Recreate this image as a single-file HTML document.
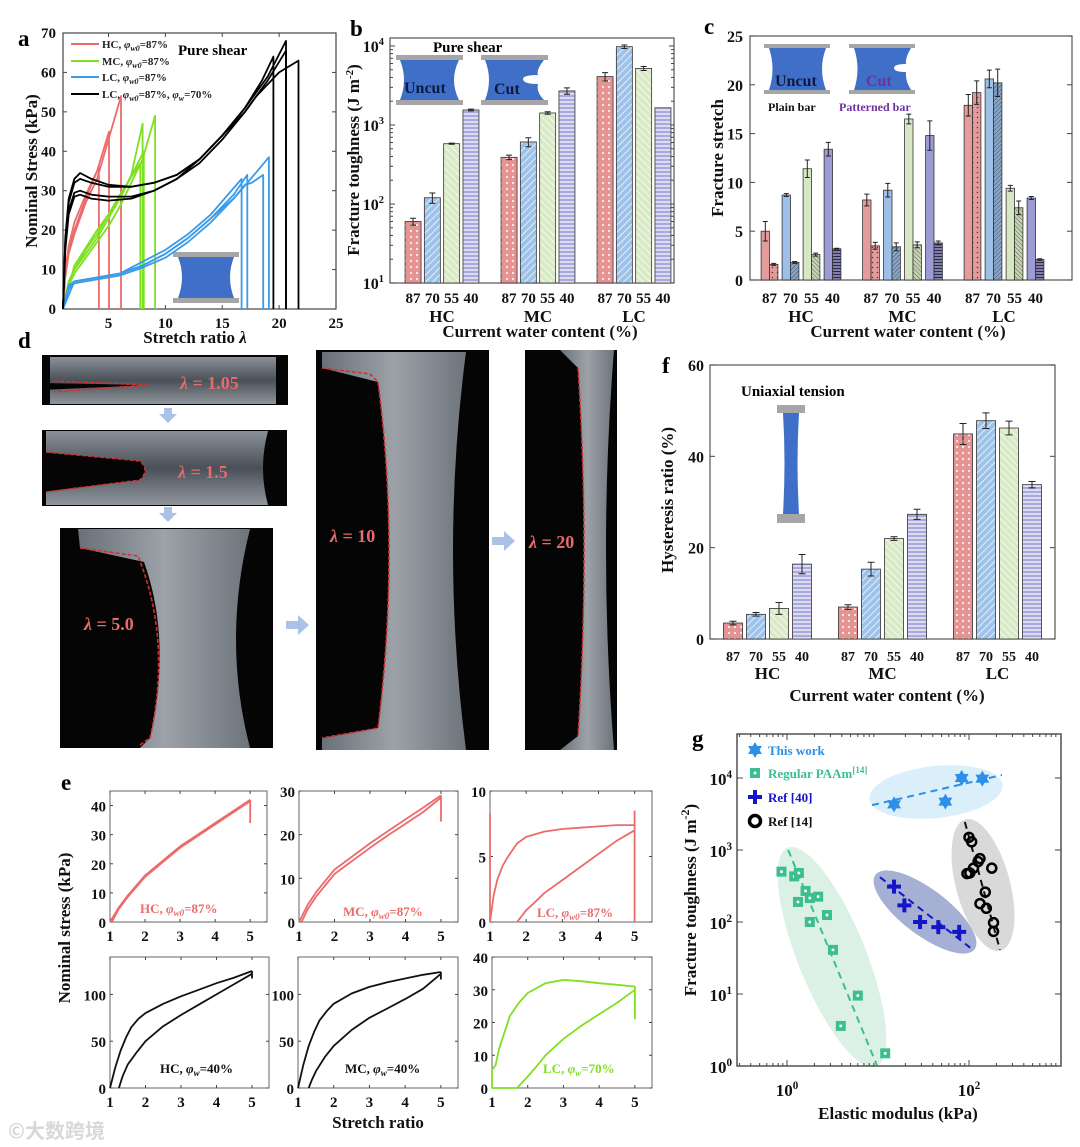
<!DOCTYPE html>
<html><head><meta charset="utf-8">
<style>
html,body{margin:0;padding:0;background:#fff;}
svg{display:block;font-family:"Liberation Serif","Noto Serif CJK SC",serif;font-weight:bold;}
.tk{font-size:15px;fill:#111;}
.ttl{font-size:17px;fill:#111;}
.pl{font-size:23px;fill:#000;}
</style></head>
<body>
<svg id="fig" width="1080" height="1147" viewBox="0 0 1080 1147" xmlns="http://www.w3.org/2000/svg">
<defs>
 <pattern id="pDotR" width="6" height="6" patternUnits="userSpaceOnUse"><rect width="6" height="6" fill="#e59393"/><circle cx="3" cy="3" r="1.1" fill="#fff" opacity="0.85"/></pattern>
 <pattern id="pDiagB" width="5" height="5" patternUnits="userSpaceOnUse" patternTransform="rotate(45)"><rect width="5" height="5" fill="#9ec3ea"/><line x1="0" y1="0" x2="0" y2="5" stroke="#fff" stroke-width="1.4"/></pattern>
 <pattern id="pDiagG" width="5" height="5" patternUnits="userSpaceOnUse" patternTransform="rotate(-45)"><rect width="5" height="5" fill="#d9eac6"/><line x1="0" y1="0" x2="0" y2="5" stroke="#fff" stroke-width="1.4"/></pattern>
 <pattern id="pHorP" width="4" height="4" patternUnits="userSpaceOnUse"><rect width="4" height="4" fill="#a9a9dd"/><line x1="0" y1="2" x2="4" y2="2" stroke="#fff" stroke-width="1.2"/></pattern>
 <pattern id="cDotR" width="5" height="5" patternUnits="userSpaceOnUse"><rect width="5" height="5" fill="#e39a9a"/><circle cx="2.5" cy="2.5" r="0.8" fill="#6a3030"/></pattern>
 <pattern id="cDiagB" width="3" height="3" patternUnits="userSpaceOnUse" patternTransform="rotate(45)"><rect width="3" height="3" fill="#87a6c8"/><line x1="0" y1="0" x2="0" y2="3" stroke="#334" stroke-width="0.8"/></pattern>
 <pattern id="cDiagG" width="3" height="3" patternUnits="userSpaceOnUse" patternTransform="rotate(-45)"><rect width="3" height="3" fill="#c4d4ae"/><line x1="0" y1="0" x2="0" y2="3" stroke="#445" stroke-width="0.8"/></pattern>
 <pattern id="cHorP" width="3" height="3" patternUnits="userSpaceOnUse"><rect width="3" height="3" fill="#7e7fae"/><line x1="0" y1="1.5" x2="3" y2="1.5" stroke="#223" stroke-width="0.9"/></pattern>
 <linearGradient id="gel" x1="0" y1="0" x2="1" y2="0"><stop offset="0" stop-color="#6a7078"/><stop offset="0.5" stop-color="#9ca2a8"/><stop offset="1" stop-color="#6e747b"/></linearGradient>
 <linearGradient id="gelv" x1="0" y1="0" x2="0" y2="1"><stop offset="0" stop-color="#8a9198"/><stop offset="0.5" stop-color="#4a5058"/><stop offset="1" stop-color="#90969c"/></linearGradient>
</defs>

<text class="pl" x="18" y="46">a</text>
<text class="pl" x="350" y="36">b</text>
<text class="pl" x="704" y="34">c</text>
<text class="pl" x="18" y="348">d</text>
<text class="pl" x="61" y="790">e</text>
<text class="pl" x="662" y="373">f</text>
<text class="pl" x="692" y="746">g</text>

<g>
 <rect x="63" y="33" width="273" height="276" fill="none" stroke="#444" stroke-width="1.2"/>
 <text x="178" y="55" font-size="15">Pure shear</text>
 <g font-size="11">
  <line x1="71" y1="44" x2="99" y2="44" stroke="#ec6b6b" stroke-width="2"/>
  <text x="102" y="48" fill="#222">HC, <tspan font-style="italic">φ</tspan><tspan font-size="8" dy="3" font-style="italic">w0</tspan><tspan dy="-3">=87%</tspan></text>
  <line x1="71" y1="61" x2="99" y2="61" stroke="#7fe022" stroke-width="2"/>
  <text x="102" y="65" fill="#222">MC, <tspan font-style="italic">φ</tspan><tspan font-size="8" dy="3" font-style="italic">w0</tspan><tspan dy="-3">=87%</tspan></text>
  <line x1="71" y1="77" x2="99" y2="77" stroke="#3a9be8" stroke-width="2"/>
  <text x="102" y="81" fill="#222">LC, <tspan font-style="italic">φ</tspan><tspan font-size="8" dy="3" font-style="italic">w0</tspan><tspan dy="-3">=87%</tspan></text>
  <line x1="71" y1="94" x2="99" y2="94" stroke="#000" stroke-width="2"/>
  <text x="102" y="98" fill="#222">LC, <tspan font-style="italic">φ</tspan><tspan font-size="8" dy="3" font-style="italic">w0</tspan><tspan dy="-3">=87%, </tspan><tspan font-style="italic">φ</tspan><tspan font-size="8" dy="3" font-style="italic">w</tspan><tspan dy="-3">=70%</tspan></text>
 </g>
 <g>
  <rect x="173" y="252" width="66" height="5" fill="#a6a6a6"/>
  <path d="M178,257 L234,257 Q226,277 234,298 L178,298 Q186,277 178,257Z" fill="#3f6fc6"/>
  <rect x="173" y="298" width="66" height="5" fill="#a6a6a6"/>
 </g>
 <text class="ttl" transform="translate(37,171) rotate(-90)" text-anchor="middle">Nominal Stress (kPa)</text>
 <text class="ttl" x="195" y="343" text-anchor="middle">Stretch ratio <tspan font-style="italic">λ</tspan></text>
</g>

<g>
 <rect x="390" y="38" width="284" height="245" fill="none" stroke="#555" stroke-width="1.2"/>
 <text x="433" y="52" font-size="15">Pure shear</text>
 <g>
  <rect x="396" y="55" width="67" height="5" fill="#a6a6a6"/>
  <path d="M400,60 L459,60 Q449,80 459,100 L400,100 Q408,80 400,60Z" fill="#3f6fc6"/>
  <rect x="396" y="100" width="67" height="5" fill="#a6a6a6"/>
  <text x="404" y="93" font-size="16" fill="#0c1a40">Uncut</text>
 </g>
 <g>
  <rect x="481" y="55" width="67" height="5" fill="#a6a6a6"/>
  <path d="M485,60 L544,60 Q536,70 538,75 Q523,75 523,79 Q523,84 538,84 Q536,92 544,100 L485,100 Q493,80 485,60Z" fill="#3f6fc6"/>
  <rect x="481" y="100" width="67" height="5" fill="#a6a6a6"/>
  <text x="494" y="94" font-size="16" fill="#0c1a40">Cut</text>
 </g>
 <text class="ttl" transform="translate(359,160) rotate(-90)" text-anchor="middle">Fracture toughness (J m<tspan font-size="11" dy="-6">-2</tspan><tspan dy="6">)</tspan></text>
 <text class="ttl" x="540" y="337" text-anchor="middle">Current water content (%)</text>
</g>

<g>
 <rect x="750" y="36" width="322" height="244" fill="none" stroke="#555" stroke-width="1.2"/>
 <g>
  <rect x="764" y="44" width="66" height="4" fill="#a6a6a6"/>
  <path d="M769,48 L826,48 Q818,69 826,90 L769,90 Q776,69 769,48Z" fill="#3f6fc6"/>
  <rect x="764" y="90" width="66" height="4" fill="#a6a6a6"/>
  <text x="775" y="86" font-size="16" fill="#0c1a40">Uncut</text>
  <text x="768" y="111" font-size="12" fill="#111">Plain bar</text>
 </g>
 <g>
  <rect x="849" y="44" width="66" height="4" fill="#a6a6a6"/>
  <path d="M854,48 L911,48 Q905,58 906,64 Q894,64 894,68 Q894,72 906,72 Q905,80 911,90 L854,90 Q861,69 854,48Z" fill="#3f6fc6"/>
  <rect x="849" y="90" width="66" height="4" fill="#a6a6a6"/>
  <text x="866" y="86" font-size="16" fill="#7030a0">Cut</text>
  <text x="839" y="111" font-size="12" fill="#7030a0">Patterned bar</text>
 </g>
 <text class="ttl" transform="translate(723,158) rotate(-90)" text-anchor="middle">Fracture stretch</text>
 <text class="ttl" x="908" y="337" text-anchor="middle">Current water content (%)</text>
</g>

<g>
 <g>
  <rect x="42" y="355" width="246" height="50" fill="#050505"/>
  <rect x="50" y="357" width="226" height="47" fill="url(#gelv)"/>
  <path d="M42,383 L148,385 L42,390Z" fill="#050505"/>
  <path d="M54,381 L148,385 L54,392" fill="none" stroke="#d43030" stroke-width="1.5" stroke-dasharray="4,2"/>
  <text x="180" y="389" font-size="18" fill="#e86a6a"><tspan font-style="italic">λ</tspan> = 1.05</text>
 </g>
 <path d="M164,408 h8 v6 h5 l-9,9 l-9,-9 h5z" fill="#a9c2e6"/>
 <g>
  <rect x="42" y="430" width="245" height="76" fill="#050505"/>
  <path d="M46,431 L268,431 Q258,468 268,505 L46,505Z" fill="url(#gelv)"/>
  <path d="M42,452 L140,461 Q150,470 140,480 L42,492Z" fill="#050505"/>
  <path d="M46,452 L140,461 Q150,470 140,480 L46,492" fill="none" stroke="#d43030" stroke-width="1.5" stroke-dasharray="4,2"/>
  <text x="178" y="478" font-size="18" fill="#e86a6a"><tspan font-style="italic">λ</tspan> = 1.5</text>
 </g>
 <path d="M164,507 h8 v6 h5 l-9,9 l-9,-9 h5z" fill="#a9c2e6"/>
 <g>
  <rect x="60" y="528" width="213" height="220" fill="#050505"/>
  <path d="M78,529 L250,529 Q222,640 250,748 L140,748 L150,738 Q172,640 144,562 L80,548Z" fill="url(#gel)"/>
  <path d="M80,548 L138,556 Q172,640 150,738 L140,745" fill="none" stroke="#d43030" stroke-width="1.6" stroke-dasharray="4,2"/>
  <text x="84" y="630" font-size="18" fill="#e86a6a"><tspan font-style="italic">λ</tspan> = 5.0</text>
 </g>
 <path d="M286,621 h12 v-6 l11,10 l-11,10 v-6 h-12z" fill="#a9c2e6"/>
 <g>
  <rect x="316" y="350" width="173" height="400" fill="#050505"/>
  <path d="M322,352 L466,352 Q440,550 466,750 L322,750 L322,738 L378,728 Q400,550 378,382 L322,368Z" fill="url(#gel)"/>
  <path d="M322,368 L370,374 L378,382 Q400,550 378,728 L322,738" fill="none" stroke="#d43030" stroke-width="1.6" stroke-dasharray="4,2"/>
  <text x="330" y="542" font-size="18" fill="#e86a6a"><tspan font-style="italic">λ</tspan> = 10</text>
 </g>
 <path d="M492,537 h12 v-6 l11,10 l-11,10 v-6 h-12z" fill="#a9c2e6"/>
 <g>
  <rect x="525" y="350" width="92" height="400" fill="#050505"/>
  <path d="M560,350 L614,350 Q598,550 614,750 L560,750 L578,736 Q590,550 578,368Z" fill="url(#gel)"/>
  <path d="M578,368 Q590,550 578,736" fill="none" stroke="#d43030" stroke-width="1.5" stroke-dasharray="4,2"/>
  <text x="529" y="548" font-size="18" fill="#e86a6a"><tspan font-style="italic">λ</tspan> = 20</text>
 </g>
</g>

<g>
 <rect x="710" y="365" width="345" height="274" fill="none" stroke="#555" stroke-width="1.2"/>
 <text x="741" y="396" font-size="15">Uniaxial tension</text>
 <g>
  <rect x="777" y="405" width="28" height="8" fill="#a6a6a6"/>
  <path d="M783,413 L799,413 Q796,463 799,514 L783,514 Q786,463 783,413Z" fill="#3f6fc6"/>
  <rect x="777" y="514" width="28" height="9" fill="#a6a6a6"/>
 </g>
 <text class="ttl" transform="translate(673,500) rotate(-90)" text-anchor="middle">Hysteresis ratio (%)</text>
 <text class="ttl" x="887" y="701" text-anchor="middle">Current water content (%)</text>
</g>

<g>
 <text class="ttl" font-size="19" transform="translate(70,928) rotate(-90)" text-anchor="middle">Nominal stress (kPa)</text>
 <text class="ttl" font-size="19" x="378" y="1128" text-anchor="middle">Stretch ratio</text>
 <g font-size="13">
 <text x="140" y="913" fill="#ec6b6b">HC, <tspan font-style="italic">φ</tspan><tspan font-size="9" dy="3" font-style="italic">w0</tspan><tspan dy="-3">=87%</tspan></text>
 <text x="343" y="916" fill="#ec6b6b">MC, <tspan font-style="italic">φ</tspan><tspan font-size="9" dy="3" font-style="italic">w0</tspan><tspan dy="-3">=87%</tspan></text>
 <text x="537" y="917" fill="#ec6b6b">LC, <tspan font-style="italic">φ</tspan><tspan font-size="9" dy="3" font-style="italic">w0</tspan><tspan dy="-3">=87%</tspan></text>
 <text x="160" y="1073" fill="#111">HC, <tspan font-style="italic">φ</tspan><tspan font-size="9" dy="3" font-style="italic">w</tspan><tspan dy="-3">=40%</tspan></text>
 <text x="345" y="1073" fill="#111">MC, <tspan font-style="italic">φ</tspan><tspan font-size="9" dy="3" font-style="italic">w</tspan><tspan dy="-3">=40%</tspan></text>
 <text x="543" y="1073" fill="#7fe022">LC, <tspan font-style="italic">φ</tspan><tspan font-size="9" dy="3" font-style="italic">w</tspan><tspan dy="-3">=70%</tspan></text>
 </g>
</g>

<g>
 <ellipse cx="936" cy="792" rx="67" ry="26" transform="rotate(-6 936 792)" fill="#d4ecf8" opacity="0.85"/>
 <ellipse cx="832" cy="957" rx="118" ry="34" transform="rotate(68 832 957)" fill="#d6efe0" opacity="0.85"/>
 <ellipse cx="925" cy="912" rx="62" ry="23" transform="rotate(37 925 912)" fill="#8796c6" opacity="0.75"/>
 <ellipse cx="983" cy="885" rx="68" ry="27" transform="rotate(75 983 885)" fill="#d5d5d5" opacity="0.9"/>
 <rect x="737" y="734" width="324" height="332" fill="none" stroke="#444" stroke-width="1.4"/>
 <text class="ttl" font-size="19" transform="translate(696,900) rotate(-90)" text-anchor="middle">Fracture toughness (J m<tspan font-size="12" dy="-7">-2</tspan><tspan dy="7">)</tspan></text>
 <text class="ttl" font-size="19" x="898" y="1119" text-anchor="middle">Elastic modulus (kPa)</text>
 <g font-size="13">
  <text x="768" y="755" fill="#2e8fe6">This work</text>
  <text x="768" y="778" fill="#3cbf8f">Regular PAAm<tspan font-size="9" dy="-5">[14]</tspan></text>
  <text x="768" y="802" fill="#1515c8">Ref [40]</text>
  <text x="768" y="826" fill="#111">Ref [14]</text>
 </g>
</g>
<text x="8" y="1138" font-size="20" fill="#d8d8d8" font-family="'Noto Sans CJK SC',sans-serif">©大数跨境</text>
</svg>

<script>
const aXTicks = [5, 10, 15, 20, 25];
const aYTicks = [0, 10, 20, 30, 40, 50, 60, 70];
const aRed1 = [[1,0],[1.2,8],[1.5,14],[2,19],[3,27],[4,33],[5,43],[6.1,54]];
const aRed2 = [[1,0],[1.2,9],[1.5,15],[2,20],[3,28],[4,35],[5.04,45]];
const aRed3 = [[1,0],[1.2,10],[1.5,16],[2,22],[3,29],[4.16,36]];
const aGreen1 = [[1,0],[1.5,6],[2,9],[3,13],[4,17],[5,21],[6,26],[7,32],[8,38],[9.1,49]];
const aGreen2 = [[1,0],[1.5,7],[2,10],[3,14],[4,18],[5,23],[6,28],[7,34],[8.0,47]];
const aGreen3 = [[1,0],[1.5,7],[2,10],[3,15],[4,19],[5,24],[6,29],[7.8,37]];
const aGreen4 = [[1,0],[2,11],[4,20],[6,28],[8.1,40]];
const aBlue1 = [[1,0],[1.5,5],[2,6.5],[4,7.5],[6,8.5],[8,10.5],[10,13],[12,17],[14,22],[16,28],[17.5,33],[19.1,38.5]];
const aBlue2 = [[1,0],[1.5,5.5],[2,7],[4,8],[6,9],[8,11],[10,14],[12,18],[14,23],[16,29],[17.2,34]];
const aBlue3 = [[1,0],[1.5,6],[2,7],[4,8],[6,9],[8,12],[10,15],[12,19],[14,24],[16.7,33]];
const aBlue4 = [[1,0],[2,7],[4,8],[6,9],[8,11],[10,14],[12,18],[14,23],[16,28],[17,31.5],[17.6,32],[18.6,34]];
const aBlack1 = [[1,0],[1.2,18],[1.5,28],[2,33],[2.5,34.5],[3.5,33],[5,31.5],[7,31],[9,32],[11,34],[13,38],[15,44],[17,51],[18.5,58],[19.5,64]];
const aBlack2 = [[1,0],[1.2,17],[1.5,27],[2,32],[2.5,33],[3.5,32],[5,31],[7,31],[9,32],[11,34],[13,38],[15,44],[17,51],[19,59],[20.6,68]];
const aBlack3 = [[1,0],[1.2,16],[1.5,25],[2,29.5],[2.5,30],[3.5,29],[5,28.5],[7,28.5],[9,30],[11,33],[13,37],[15,43],[17,50],[19,58],[20.6,65.5]];
const aBlack4 = [[1,0],[1.2,15],[1.5,24],[2,28.5],[2.5,29],[3.5,28],[5,27.5],[7,28],[9,30],[11,33],[13,38],[15,44],[17,50],[18,54],[20,60],[21.7,63]];

const groups = ["HC", "MC", "LC"];
const waterLevels = ["87", "70", "55", "40"];
const bHC = [60, 120, 580, 1550];
const bMC = [390, 610, 1420, 2700];
const bLC = [4100, 9800, 5200, 1650];
const bErrHC = [6, 18, 10, 40];
const bErrMC = [25, 80, 50, 250];
const bErrLC = [500, 500, 300, 0];
const bYTickExp = [1, 2, 3, 4];
const cPlainHC = [5.0, 8.7, 11.4, 13.4];
const cPlainMC = [8.2, 9.2, 16.5, 14.8];
const cPlainLC = [17.9, 20.6, 9.4, 8.4];
const cPatHC = [1.6, 1.8, 2.6, 3.2];
const cPatMC = [3.5, 3.4, 3.6, 3.8];
const cPatLC = [19.2, 20.2, 7.4, 2.1];
const cErrPlainHC = [1.0, 0.15, 0.9, 0.7];
const cErrPlainMC = [0.6, 0.7, 0.5, 1.5];
const cErrPlainLC = [1.1, 0.9, 0.3, 0.15];
const cErrPatHC = [0.1, 0.1, 0.15, 0.05];
const cErrPatMC = [0.35, 0.4, 0.3, 0.2];
const cErrPatLC = [1.2, 1.4, 0.7, 0.08];
const cYTicks = [0, 5, 10, 15, 20, 25];
const fHC = [3.5, 5.4, 6.7, 16.4];
const fMC = [7.0, 15.3, 22.0, 27.3];
const fLC = [44.9, 47.8, 46.2, 33.8];
const fErrHC = [0.4, 0.4, 1.3, 2.1];
const fErrMC = [0.5, 1.5, 0.4, 1.1];
const fErrLC = [2.3, 1.7, 1.5, 0.7];
const fYTicks = [0, 20, 40, 60];

const eXTicks = [1, 2, 3, 4, 5];
const e1Load = [[1,0],[1.25,5],[1.5,9],[2,16],[2.5,21],[3,26],[3.5,30],[4,34],[4.5,38],[5,42]];
const e1Unload = [[5,41.5],[4.5,37.5],[4,33.5],[3.5,29.5],[3,25.5],[2.5,20.5],[2,15.5],[1.5,8.5],[1.25,4.5],[1.05,0]];
const e1Drop = [[5,42],[5,34]];
const e2Load = [[1,0],[1.25,4],[1.5,7],[2,12],[2.5,15],[3,18],[3.5,20.8],[4,23.5],[4.5,26.2],[5,29]];
const e2Unload = [[5,28.5],[4.5,25.2],[4,22.5],[3.5,19.8],[3,17],[2.5,14],[2,11],[1.5,6],[1.25,3],[1.07,0]];
const e2Drop = [[5,29],[5,23]];
const e3Load = [[1,8.3],[1,0],[1.1,2],[1.2,3.2],[1.35,4.3],[1.5,5],[1.75,6],[2,6.5],[2.5,6.9],[3,7.1],[3.5,7.2],[4,7.3],[4.5,7.4],[5,7.4]];
const e3Unload = [[5,7.0],[4.5,6.2],[4,5.2],[3.5,4.2],[3,3.2],[2.5,2.2],[2.2,1.4],[2,0.9],[1.75,0]];
const e3Drop = [[5,8.5],[5,0]];
const e4Load = [[1,0],[1.15,22],[1.3,40],[1.45,54],[1.6,65],[1.8,74],[2,80],[2.5,90],[3,98],[3.5,105],[4,112],[4.5,118],[5,125]];
const e4Unload = [[5,122],[4.5,111],[4,100],[3.5,89],[3,78],[2.5,66],[2,50],[1.75,38],[1.5,25],[1.35,12],[1.25,0]];
const e4Drop = [[5,125],[5,117]];
const e5Load = [[1,0],[1.15,25],[1.3,45],[1.45,60],[1.6,72],[1.8,82],[2,90],[2.5,101],[3,108],[3.5,113],[4,117],[4.5,121],[5,124]];
const e5Unload = [[5,122],[4.5,106],[4,95],[3.5,85],[3,75],[2.5,62],[2,45],[1.75,33],[1.5,18],[1.38,8],[1.3,0]];
const e5Drop = [[5,124],[5,116]];
const e6Load = [[1,0],[1,5.5],[1.1,7],[1.2,12],[1.35,17],[1.5,22],[1.75,26],[2,29],[2.5,32],[3,33],[3.5,32.6],[4,32],[4.5,31.5],[5,31]];
const e6Unload = [[5,30],[4.5,26],[4,22.5],[3.5,19],[3,15],[2.5,10],[2.2,6],[2,3.5],[1.7,0],[1,0]];
const e6Drop = [[5,31],[5,21]];

const gThisE = [15, 55, 83, 140];
const gThisG = [4300, 4700, 10000, 9800];
const gPaamE = [0.87, 1.2, 1.35, 1.32, 1.6, 1.78, 2.2, 1.78, 2.75, 3.2, 6.0, 3.9, 12];
const gPaamG = [500, 430, 480, 190, 270, 215, 225, 100, 125, 41, 9.5, 3.6, 1.5];
const gRef40E = [15, 19.5, 29, 46, 78];
const gRef40G = [310, 170, 100, 85, 73];
const gRef14E = [100, 107, 132, 126, 112, 95, 178, 151, 132, 155, 186, 186, 102];
const gRef14G = [1500, 1300, 760, 690, 560, 470, 560, 260, 180, 155, 98, 74, 480];
const gFitThisE = [8.6, 230];
const gFitThisG = [4200, 11000];
const gFitPaamE = [1.03, 9.7];
const gFitPaamG = [1000, 1.03];
const gFitRef40E = [10.5, 103];
const gFitRef40G = [420, 44];
const gFitRef14E = [90, 219];
const gFitRef14G = [2450, 41];
const gXTickExp = [0, 2];
const gYTickExp = [0, 1, 2, 3, 4];

const NS = 'http://www.w3.org/2000/svg';
const svg = document.getElementById('fig');
function mk(tag, attrs, parent) {
  const e = document.createElementNS(NS, tag);
  for (const k in attrs) e.setAttribute(k, attrs[k]);
  (parent || svg).appendChild(e);
  return e;
}
function group(name) {
  const g = mk('g', {});
  
  
  return g;
}
function poly(pts, sx, sy, color, w, parent, name) {
  const d = pts.map(p => sx(p[0]).toFixed(1) + ',' + sy(p[1]).toFixed(1)).join(' ');
  const e = mk('polyline', {points: d, fill: 'none', stroke: color, 'stroke-width': w, 'stroke-linejoin': 'round'}, parent);
  
  
  return e;
}
function label(x, y, s, anchor, size, parent, name) {
  const e = mk('text', {x: x, y: y, 'text-anchor': anchor, 'font-size': size, fill: '#111'}, parent);
  e.textContent = s;
  
  
  return e;
}
function powLabel(x, y, exp, anchor, size, parent, name) {
  const e = mk('text', {x: x, y: y, 'text-anchor': anchor, 'font-size': size, fill: '#111'}, parent);
  const t1 = document.createElementNS(NS, 'tspan'); t1.textContent = '10'; e.appendChild(t1);
  const t2 = document.createElementNS(NS, 'tspan'); t2.textContent = String(exp);
  t2.setAttribute('dy', '-7'); t2.setAttribute('font-size', size * 0.65); e.appendChild(t2);
  
  
  return e;
}
function tick(x1, y1, x2, y2, parent) {
  const e = mk('line', {x1, y1, x2, y2, stroke: '#444', 'stroke-width': 1}, parent);
  
  
}
function bar(x, w, yTop, yBase, fill, parent, name) {
  const e = mk('rect', {x: x - w / 2, y: yTop, width: w, height: Math.max(0, yBase - yTop), fill: fill, stroke: '#333', 'stroke-width': 0.8}, parent);
  
  
}
function errBar(x, yLo, yHi, cap, parent) {
  const e = mk('path', {d: `M${x},${yLo}V${yHi}M${x - cap},${yLo}h${2 * cap}M${x - cap},${yHi}h${2 * cap}`, stroke: '#222', 'stroke-width': 1, fill: 'none'}, parent);
  
  
}

(function () {
  const g = group('panel-a-plot');
  const sx = v => 63 + (v - 1) * 11.375;
  const sy = v => 309 - v * 3.943;
  aXTicks.forEach(t => { tick(sx(t), 309, sx(t), 305, g); tick(sx(t), 33, sx(t), 37, g); label(sx(t), 328, String(t), 'middle', 15, g, 'x-tick-label-a'); });
  aYTicks.forEach(t => { tick(63, sy(t), 67, sy(t), g); tick(336, sy(t), 332, sy(t), g); label(56, sy(t) + 5, String(t), 'end', 15, g, 'y-tick-label-a'); });
  const fam = [
    [[aRed1, aRed2, aRed3], '#ec6b6b', 'hc-curve'],
    [[aGreen1, aGreen2, aGreen3, aGreen4], '#7fe022', 'mc-curve'],
    [[aBlue1, aBlue2, aBlue3, aBlue4], '#3a9be8', 'lc-curve'],
    [[aBlack1, aBlack2, aBlack3, aBlack4], '#000', 'lc70-curve']
  ];
  fam.forEach(f => f[0].forEach(c => {
    const last = c[c.length - 1];
    poly(c.concat([[last[0], 0]]), sx, sy, f[1], 1.8, g, f[2]);
  }));
})();

(function () {
  const g = group('panel-b-plot');
  const sy = v => 283 - (Math.log10(v) - 1) * 79;
  const gc = i => 442 + 96 * i;
  const off = j => (j - 1.5) * 19.3;
  const fills = ['url(#pDotR)', 'url(#pDiagB)', 'url(#pDiagG)', 'url(#pHorP)'];
  const vals = [bHC, bMC, bLC], errs = [bErrHC, bErrMC, bErrLC];
  bYTickExp.forEach(e => {
    const y = sy(Math.pow(10, e));
    tick(390, y, 395, y, g); tick(674, y, 669, y, g);
    powLabel(384, y + 6, e, 'end', 16, g, 'y-tick-label-b');
    if (e < 4) for (let m = 2; m < 10; m++) { const ym = sy(m * Math.pow(10, e)); tick(390, ym, 393, ym, g); tick(674, ym, 671, ym, g); }
  });
  groups.forEach((name, i) => {
    waterLevels.forEach((w, j) => {
      const x = gc(i) + off(j), v = vals[i][j], er = errs[i][j];
      bar(x, 16, sy(v), 283, fills[j], g, 'bar-' + name.toLowerCase() + '-' + w);
      if (er > 0) errBar(x, sy(v - er), sy(v + er), 3, g);
      label(x, 303, w, 'middle', 15, g, 'x-tick-label-b');
    });
    label(gc(i), 322, name, 'middle', 17, g, 'group-label-b');
  });
})();

(function () {
  const g = group('panel-c-plot');
  const sy = v => 280 - v * 9.76;
  const gc = i => 801 + 101.5 * i;
  const off = j => (j - 1.5) * 21;
  const plainFill = ['#e39b9b', '#9ec0e6', '#d6e8c3', '#9d9bd3'];
  const patFill = ['url(#cDotR)', 'url(#cDiagB)', 'url(#cDiagG)', 'url(#cHorP)'];
  const plain = [cPlainHC, cPlainMC, cPlainLC], pat = [cPatHC, cPatMC, cPatLC];
  const ePlain = [cErrPlainHC, cErrPlainMC, cErrPlainLC], ePat = [cErrPatHC, cErrPatMC, cErrPatLC];
  cYTicks.forEach(t => { tick(750, sy(t), 755, sy(t), g); tick(1072, sy(t), 1067, sy(t), g); label(743, sy(t) + 6, String(t), 'end', 16, g, 'y-tick-label-c'); });
  groups.forEach((name, i) => {
    waterLevels.forEach((w, j) => {
      const x = gc(i) + off(j);
      const v1 = plain[i][j], v2 = pat[i][j];
      bar(x - 4.2, 8.4, sy(v1), 280, plainFill[j], g, 'plain-bar-' + name.toLowerCase() + '-' + w);
      errBar(x - 4.2, sy(v1 - ePlain[i][j]), sy(v1 + ePlain[i][j]), 2.5, g);
      bar(x + 4.2, 8.4, sy(v2), 280, patFill[j], g, 'patterned-bar-' + name.toLowerCase() + '-' + w);
      errBar(x + 4.2, sy(v2 - ePat[i][j]), sy(v2 + ePat[i][j]), 2.5, g);
      label(x, 303, w, 'middle', 15, g, 'x-tick-label-c');
    });
    label(gc(i), 322, name, 'middle', 17, g, 'group-label-c');
  });
})();

(function () {
  const g = group('panel-f-plot');
  const sy = v => 639 - v * 4.567;
  const gc = i => 767.5 + 115 * i;
  const off = j => (j - 1.5) * 23;
  const fills = ['url(#pDotR)', 'url(#pDiagB)', 'url(#pDiagG)', 'url(#pHorP)'];
  const vals = [fHC, fMC, fLC], errs = [fErrHC, fErrMC, fErrLC];
  fYTicks.forEach(t => { tick(710, sy(t), 715, sy(t), g); tick(1055, sy(t), 1050, sy(t), g); label(704, sy(t) + 6, String(t), 'end', 16, g, 'y-tick-label-f'); });
  groups.forEach((name, i) => {
    waterLevels.forEach((w, j) => {
      const x = gc(i) + off(j), v = vals[i][j], er = errs[i][j];
      bar(x, 19, sy(v), 639, fills[j], g, 'bar-' + name.toLowerCase() + '-' + w);
      errBar(x, sy(v - er), sy(v + er), 3.5, g);
      label(x, 661, w, 'middle', 14, g, 'x-tick-label-f');
    });
    label(gc(i), 679, name, 'middle', 17, g, 'group-label-f');
  });
})();

(function () {
  const boxes = [
    {x0: 110, x1: 267, y0: 791, y1: 922, ymax: 45, ticks: [0, 10, 20, 30, 40], c: '#ec6b6b', load: e1Load, un: e1Unload, drop: e1Drop, n: 'hc-87'},
    {x0: 299, x1: 458, y0: 791, y1: 922, ymax: 30, ticks: [0, 10, 20, 30], c: '#ec6b6b', load: e2Load, un: e2Unload, drop: e2Drop, n: 'mc-87'},
    {x0: 490, x1: 652, y0: 791, y1: 922, ymax: 10, ticks: [0, 5, 10], c: '#ec6b6b', load: e3Load, un: e3Unload, drop: e3Drop, n: 'lc-87'},
    {x0: 110, x1: 269, y0: 957, y1: 1088, ymax: 140, ticks: [0, 50, 100], c: '#111', load: e4Load, un: e4Unload, drop: e4Drop, n: 'hc-40'},
    {x0: 298, x1: 458, y0: 957, y1: 1088, ymax: 140, ticks: [0, 50, 100], c: '#111', load: e5Load, un: e5Unload, drop: e5Drop, n: 'mc-40'},
    {x0: 492, x1: 652, y0: 957, y1: 1088, ymax: 40, ticks: [0, 10, 20, 30, 40], c: '#7fe022', load: e6Load, un: e6Unload, drop: e6Drop, n: 'lc-70'}
  ];
  boxes.forEach(b => {
    const g = group('panel-e-plot-' + b.n);
    const fr = mk('rect', {x: b.x0, y: b.y0, width: b.x1 - b.x0, height: b.y1 - b.y0, fill: 'none', stroke: '#666', 'stroke-width': 1}, g);
    
    
    const sx = v => b.x0 + (v - 1) / 4.48 * (b.x1 - b.x0);
    const sy = v => b.y1 - v / b.ymax * (b.y1 - b.y0);
    eXTicks.forEach(t => { tick(sx(t), b.y1, sx(t), b.y1 - 3, g); tick(sx(t), b.y0, sx(t), b.y0 + 3, g); label(sx(t), b.y1 + 19, String(t), 'middle', 15, g, 'x-tick-label-e'); });
    b.ticks.forEach(t => { tick(b.x0, sy(t), b.x0 + 3, sy(t), g); tick(b.x1, sy(t), b.x1 - 3, sy(t), g); label(b.x0 - 4, sy(t) + 6, String(t), 'end', 15, g, 'y-tick-label-e'); });
    poly(b.load, sx, sy, b.c, 1.8, g, 'loading-curve');
    poly(b.un, sx, sy, b.c, 1.8, g, 'unloading-curve');
    poly(b.drop, sx, sy, b.c, 1.8, g, 'fracture-drop');
  });
})();

(function () {
  const g = group('panel-g-plot');
  const sx = v => 787 + Math.log10(v) * 91;
  const sy = v => 1066 - Math.log10(v) * 72;
  gXTickExp.forEach(e => { const x = sx(Math.pow(10, e)); tick(x, 1066, x, 1060, g); tick(x, 734, x, 740, g); powLabel(x, 1096, e, 'middle', 17, g, 'x-tick-label-g'); });
  for (let e = -1; e < 3; e++) for (let m = 2; m < 10; m++) { const x = sx(m * Math.pow(10, e)); if (x > 737 && x < 1061) { tick(x, 1066, x, 1063, g); tick(x, 734, x, 737, g); } }
  gYTickExp.forEach(e => { const y = sy(Math.pow(10, e)); tick(737, y, 743, y, g); tick(1061, y, 1055, y, g); powLabel(732, y + 7, e, 'end', 17, g, 'y-tick-label-g'); });
  const fits = [[gFitThisE, gFitThisG, '#2e8fe6'], [gFitPaamE, gFitPaamG, '#3cbf8f'], [gFitRef40E, gFitRef40G, '#1515c8'], [gFitRef14E, gFitRef14G, '#111']];
  fits.forEach(f => {
    const l = mk('line', {x1: sx(f[0][0]), y1: sy(f[1][0]), x2: sx(f[0][1]), y2: sy(f[1][1]), stroke: f[2], 'stroke-width': 2, 'stroke-dasharray': '7,5'}, g);
    
    
  });
  function star(cx, cy, r, parent) {
    let pts = [];
    for (let k = 0; k < 12; k++) { const a = -Math.PI / 2 + k * Math.PI / 6; const rr = k % 2 ? r * 0.58 : r; pts.push((cx + rr * Math.cos(a)).toFixed(1) + ',' + (cy + rr * Math.sin(a)).toFixed(1)); }
    const e = mk('polygon', {points: pts.join(' '), fill: '#2e8fe6'}, parent);
    
    
  }
  function square(cx, cy, parent) {
    const e = mk('rect', {x: cx - 5, y: cy - 5, width: 10, height: 10, fill: '#3cbf8f'}, parent);
    
    
    const d = mk('rect', {x: cx - 1.3, y: cy - 1.3, width: 2.6, height: 2.6, fill: '#fff'}, parent);
    
    
  }
  function cross(cx, cy, parent) {
    const e = mk('path', {d: `M${cx - 7},${cy}h14M${cx},${cy - 7}v14`, stroke: '#1515c8', 'stroke-width': 4}, parent);
    
    
  }
  function ring(cx, cy, r, w, parent) {
    const e = mk('circle', {cx: cx, cy: cy, r: r, fill: 'none', stroke: '#000', 'stroke-width': w}, parent);
    
    
  }
  gPaamE.forEach((e, i) => square(sx(e), sy(gPaamG[i]), g));
  gRef40E.forEach((e, i) => cross(sx(e), sy(gRef40G[i]), g));
  gRef14E.forEach((e, i) => ring(sx(e), sy(gRef14G[i]), 4.5, 2.5, g));
  gThisE.forEach((e, i) => star(sx(e), sy(gThisG[i]), 8, g));
  star(755, 750, 8, g);
  square(755, 773, g);
  cross(755, 797, g);
  ring(755, 821, 5.5, 3.5, g);
})();
</script>
</body></html>
